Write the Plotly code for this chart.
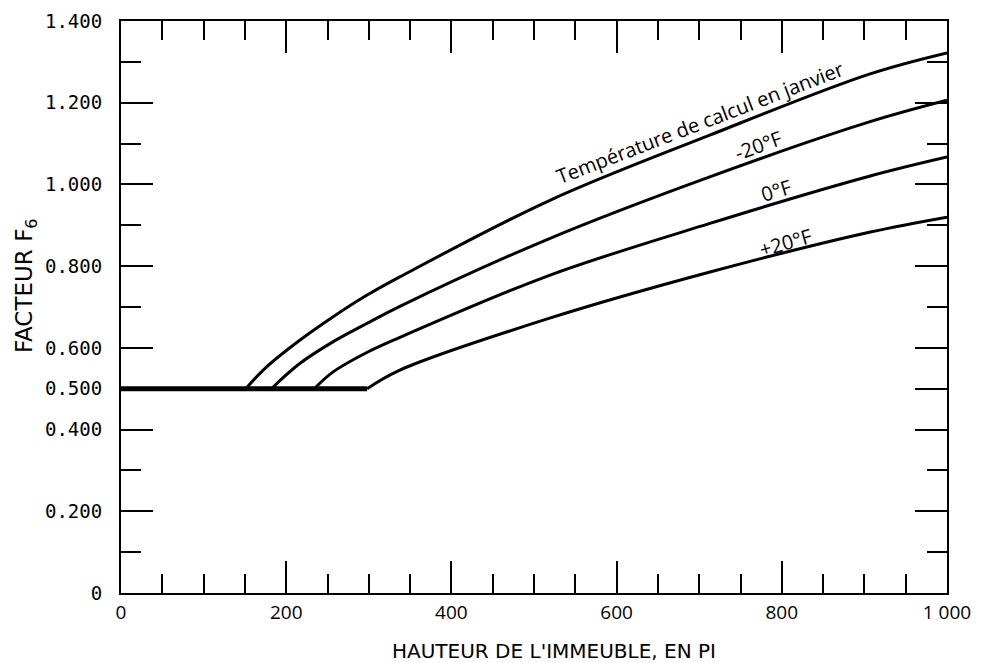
import plotly.graph_objects as go

# Data: building height (ft) vs factor F6
flat_x = [0, 298]
flat_y = [0.5, 0.5]

c1_x = [151, 176, 216, 256, 297, 337, 518, 712, 906, 1000]
c1_y = [0.500, 0.553, 0.618, 0.675, 0.728, 0.773, 0.960, 1.120, 1.270, 1.322]

c2_x = [182, 216, 256, 297, 337, 518, 712, 906, 1000]
c2_y = [0.500, 0.561, 0.614, 0.659, 0.701, 0.867, 1.018, 1.153, 1.206]

c3_x = [234, 256, 297, 337, 518, 712, 906, 1000]
c3_y = [0.500, 0.540, 0.588, 0.625, 0.777, 0.904, 1.020, 1.067]

c4_x = [298, 337, 518, 712, 906, 1000]
c4_y = [0.500, 0.545, 0.672, 0.785, 0.883, 0.920]

y_tickvals = [0, 0.2, 0.4, 0.5, 0.6, 0.8, 1.0, 1.2, 1.4]
y_ticktext = ["0", "0.200", "0.400", "0.500", "0.600", "0.800", "1.000", "1.200", "1.400"]
x_tickvals = [0, 200, 400, 600, 800, 1000]
x_ticktext = ["0", "200", "400", "600", "800", "1 000"]

SANS = "'Open Sans', 'Noto Sans', sans-serif"
TITLE = "'DejaVu Sans', 'Open Sans', sans-serif"
MONO = "'DejaVu Sans Mono', 'Liberation Mono', monospace"

fig = go.Figure()
fig.add_trace(go.Scatter(x=flat_x, y=flat_y, mode="lines",
                         line=dict(color="black", width=5), showlegend=False))
for xs, ys in [(c1_x, c1_y), (c2_x, c2_y), (c3_x, c3_y), (c4_x, c4_y)]:
    fig.add_trace(go.Scatter(x=xs, y=ys, mode="lines", line_shape="spline",
                             line=dict(color="black", width=3), showlegend=False))

fig.update_layout(
    width=986, height=663,
    margin=dict(l=113, r=46.5, t=13, b=78.4),
    plot_bgcolor="white", paper_bgcolor="white",
    showlegend=False,
)
fig.update_xaxes(
    range=[0, 1000], showgrid=False, zeroline=False, automargin=False,
    showline=True, linecolor="black", linewidth=2, mirror="ticks",
    ticks="inside", ticklen=32, tickwidth=1.5, tickcolor="black",
    tickvals=x_tickvals, ticktext=x_ticktext,
    tickfont=dict(family=SANS, size=19, color="black"),
    ticklabelstandoff=1,
    minor=dict(dtick=50, ticks="inside", ticklen=19, tickwidth=1.5, tickcolor="black", showgrid=False),
)
fig.update_yaxes(
    range=[0, 1.4], showgrid=False, zeroline=False, automargin=False,
    showline=True, linecolor="black", linewidth=2, mirror="ticks",
    ticks="inside", ticklen=32, tickwidth=1.5, tickcolor="black",
    tickvals=y_tickvals, ticktext=y_ticktext,
    tickfont=dict(family=MONO, size=19, color="black"),
    ticklabelstandoff=13,
    minor=dict(dtick=0.1, ticks="inside", ticklen=20, tickwidth=1.5, tickcolor="black", showgrid=False),
)

ann_font = dict(family=SANS, size=20, color="black")
fig.add_annotation(x=701, y=1.152, xref="x", yref="y", text="Température de calcul en janvier",
                   textangle=-21, showarrow=False, font=ann_font, xanchor="center", yanchor="middle")
fig.add_annotation(x=771, y=1.096, xref="x", yref="y", text="-20°F",
                   textangle=-20, showarrow=False, font=ann_font, xanchor="center", yanchor="middle")
fig.add_annotation(x=793, y=0.985, xref="x", yref="y", text="0°F",
                   textangle=-17, showarrow=False, font=ann_font, xanchor="center", yanchor="middle")
fig.add_annotation(x=805, y=0.858, xref="x", yref="y", text="+20°F",
                   textangle=-16, showarrow=False, font=ann_font, xanchor="center", yanchor="middle")

fig.add_annotation(x=0.5245, y=-0.101, xref="paper", yref="paper",
                   text="HAUTEUR DE L'IMMEUBLE, EN PI", showarrow=False,
                   xanchor="center", yanchor="middle",
                   font=dict(family=TITLE, size=20, color="black"))
fig.add_annotation(x=-0.1143, y=0.5376, xref="paper", yref="paper",
                   text="FACTEUR F<sub>6</sub>", textangle=-90, showarrow=False,
                   xanchor="center", yanchor="middle",
                   font=dict(family=TITLE, size=23, color="black"))

fig.write_html("out.html")
